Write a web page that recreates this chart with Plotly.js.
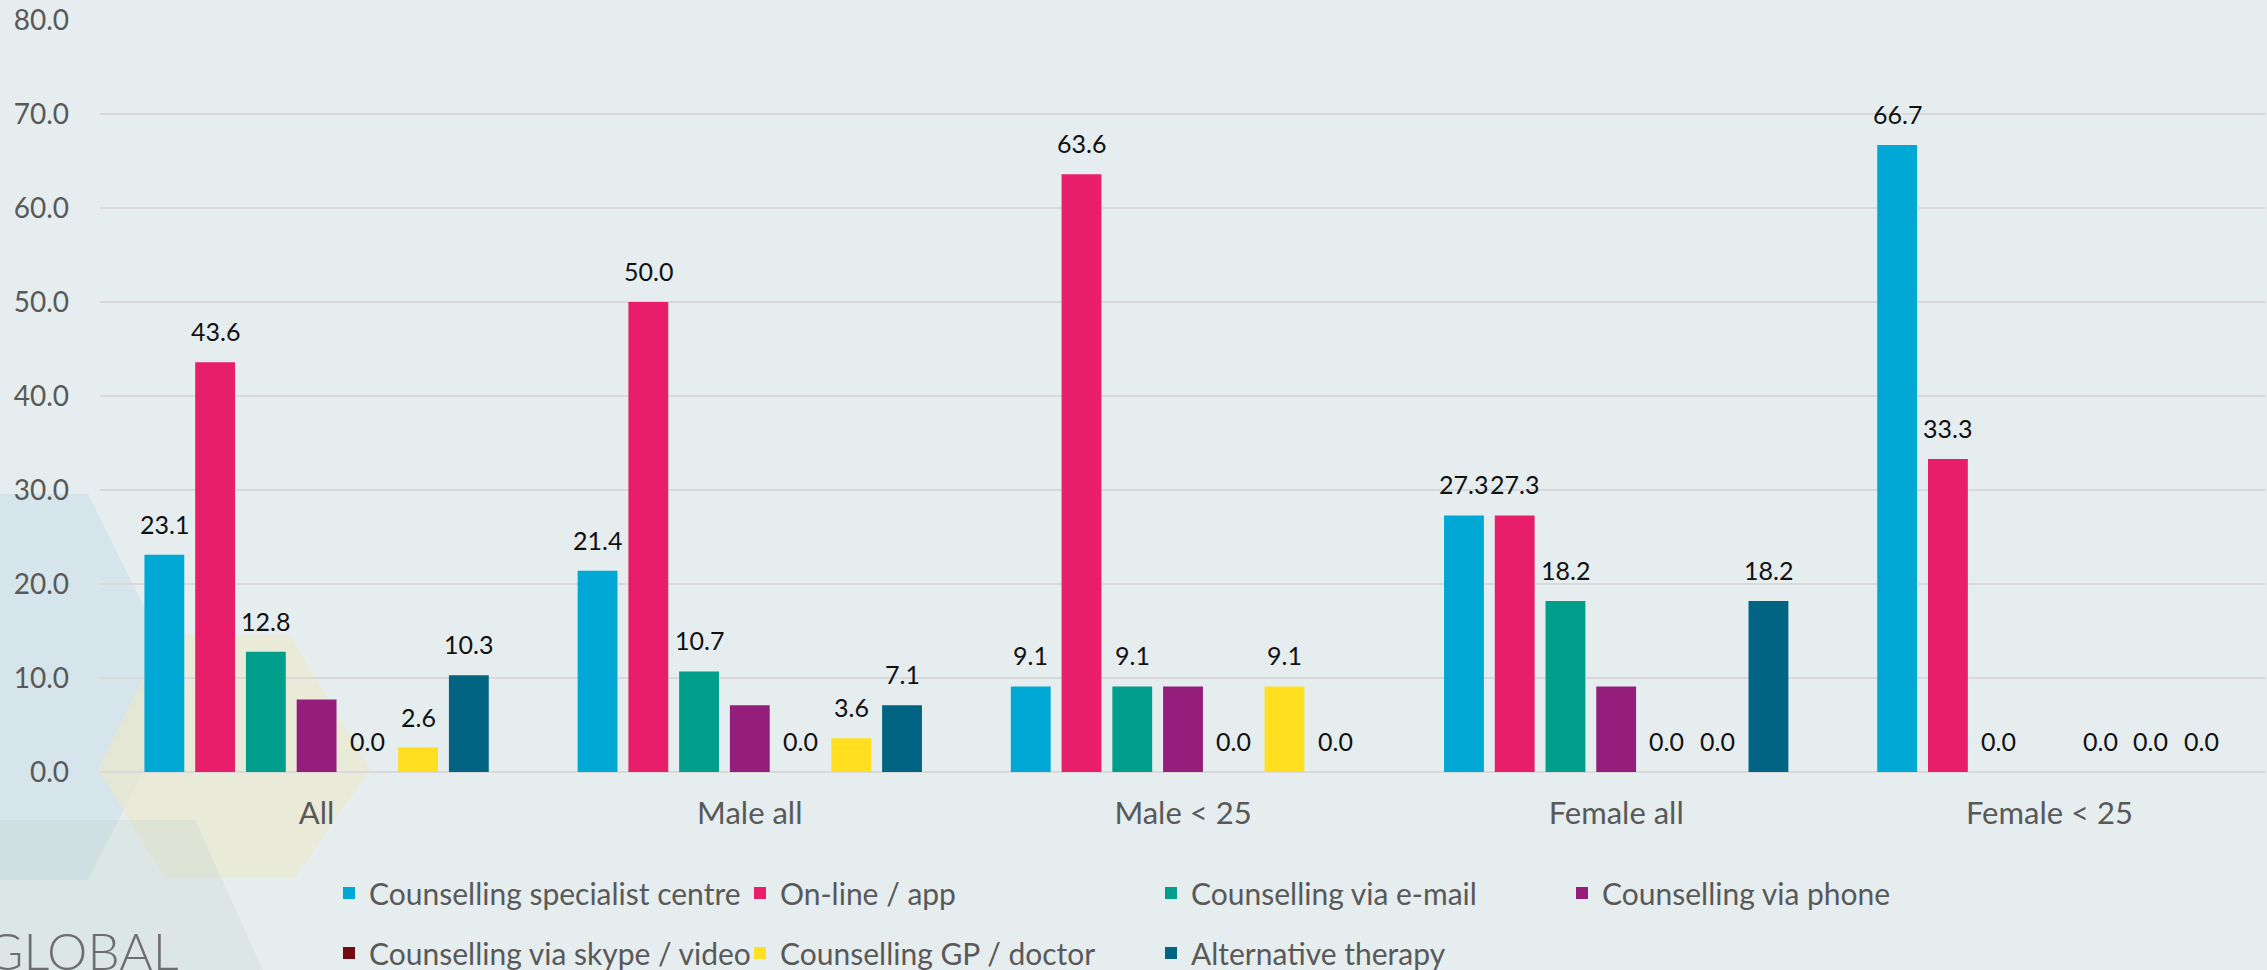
<!DOCTYPE html>
<html>
<head>
<meta charset="utf-8">
<script src="https://cdn.plot.ly/plotly-3.0.1.min.js"></script>
<style>
  html, body { margin: 0; padding: 0; background: #E5EDEF; }
  #chart { width: 2267px; height: 970px; }
</style>
</head>
<body>
<div id="chart"></div>
<script>
// ---- data ----
const categories = ['All', 'Male all', 'Male < 25', 'Female all', 'Female < 25'];
const seriesNames = [
  'Counselling specialist centre',
  'On-line / app',
  'Counselling via e-mail',
  'Counselling via phone',
  'Counselling via skype / video',
  'Counselling GP / doctor',
  'Alternative therapy'
];
const specialistCentre = [23.1, 21.4, 9.1, 27.3, 66.7];
const onlineApp        = [43.6, 50.0, 63.6, 27.3, 33.3];
const viaEmail         = [12.8, 10.7, 9.1, 18.2, 0.0];
const viaPhone         = [7.7, 7.1, 9.1, 9.1, 0.0];
const viaSkype         = [0.0, 0.0, 0.0, 0.0, 0.0];
const gpDoctor         = [2.6, 3.6, 9.1, 0.0, 0.0];
const alternative      = [10.3, 7.1, 0.0, 18.2, 0.0];
const yTickValues = [0, 10, 20, 30, 40, 50, 60, 70, 80];
const yTickLabels = ['0.0', '10.0', '20.0', '30.0', '40.0', '50.0', '60.0', '70.0', '80.0'];

// ---- styling ----
const colors = ['#00A8D6', '#E81E6B', '#009E8B', '#951E7C', '#740B10', '#FFDF20', '#006482'];
const showLabels = [true, true, true, false, true, true, true];
const legendOf = ['legend', 'legend', 'legend', 'legend', 'legend2', 'legend2', 'legend2'];
const allValues = [specialistCentre, onlineApp, viaEmail, viaPhone, viaSkype, gpDoctor, alternative];
const FONT = 'Lato, "Open Sans", sans-serif';

const L = 100, R = 1, T = 20, Bm = 198, WIDTH = 2267, HEIGHT = 970;
const BARGAP = 0.18, BARGROUPGAP = 0.215;
const plotW = WIDTH - L - R, plotH = HEIGHT - T - Bm;

const traces = allValues.map((vals, i) => ({
  type: 'bar',
  name: seriesNames[i],
  x: categories,
  y: vals,
  marker: { color: colors[i] },
  legend: legendOf[i],
  hoverinfo: 'x+y+name'
}));

// data labels: placed at each bar's category/value through the axes,
// shifted sideways by the bar's slot within the group
const slotPx = (plotW / categories.length) * (1 - BARGAP) / allValues.length;
const labelAnnotations = [];
allValues.forEach((vals, i) => {
  if (!showLabels[i]) return;
  vals.forEach((v, j) => {
    labelAnnotations.push({
      x: categories[j], y: v, xref: 'x', yref: 'y',
      text: v.toFixed(1), showarrow: false,
      xshift: (i - (allValues.length - 1) / 2) * slotPx,
      yanchor: 'middle', yshift: 31,
      font: { family: FONT, size: 25, color: '#111111' }
    });
  });
});

// decorative background hexagons (paper coords computed from pixel positions)
const B = HEIGHT - Bm;
function px(x) { return (x - L) / plotW; }
function py(y) { return (B - y) / plotH; }
function hexPath(pts) {
  return 'M' + pts.map(p => px(p[0]).toFixed(4) + ',' + py(p[1]).toFixed(4)).join('L') + 'Z';
}
const shapes = [
  { type: 'path', xref: 'paper', yref: 'paper', layer: 'below', line: { width: 0 },
    fillcolor: 'rgba(185,212,228,0.35)',
    path: hexPath([[-200, 494], [88, 494], [185, 690], [88, 880], [-200, 880]]) },
  { type: 'path', xref: 'paper', yref: 'paper', layer: 'below', line: { width: 0 },
    fillcolor: 'rgba(236,232,200,0.6)',
    path: hexPath([[98, 769], [165, 635], [290, 635], [370, 769], [295, 878], [165, 878]]) },
  { type: 'path', xref: 'paper', yref: 'paper', layer: 'below', line: { width: 0 },
    fillcolor: 'rgba(195,215,205,0.30)',
    path: hexPath([[-50, 820], [195, 820], [265, 975], [-50, 975]]) }
];

const legendCommon = {
  orientation: 'h',
  xref: 'container', yref: 'container',
  x: 329 / WIDTH, xanchor: 'left',
  yanchor: 'middle',
  bgcolor: 'rgba(0,0,0,0)',
  font: { family: FONT, size: 30, color: '#595959' },
  entrywidth: 366,
  entrywidthmode: 'pixels',
  traceorder: 'normal'
};

const layout = {
  width: WIDTH,
  height: HEIGHT,
  paper_bgcolor: '#E5EDEF',
  plot_bgcolor: 'rgba(0,0,0,0)',
  margin: { l: L, r: R, t: T, b: Bm },
  barmode: 'group',
  bargap: BARGAP,
  bargroupgap: BARGROUPGAP,
  font: { family: FONT, color: '#595959' },
  xaxis: {
    type: 'category',
    tickfont: { family: FONT, size: 31, color: '#595959' },
    ticks: '',
    ticklabelstandoff: 20,
    showgrid: false,
    zeroline: false,
    showline: false
  },
  yaxis: {
    range: [0, 80],
    tickvals: yTickValues,
    ticktext: yTickLabels,
    tickfont: { family: FONT, size: 28, color: '#595959' },
    ticks: '',
    ticklabelstandoff: 30,
    showgrid: true,
    gridcolor: '#D9D9D9',
    gridwidth: 2,
    zeroline: true,
    zerolinecolor: '#D9D9D9',
    zerolinewidth: 2,
    showline: false,
    fixedrange: true
  },
  showlegend: true,
  legend: Object.assign({}, legendCommon, { y: 1 - 893 / HEIGHT }),
  legend2: Object.assign({}, legendCommon, { y: 1 - 953 / HEIGHT }),
  shapes: shapes,
  annotations: labelAnnotations.concat([
    { text: 'GLOBAL', xref: 'paper', yref: 'paper',
      x: px(-16), xanchor: 'left', y: py(983), yanchor: 'bottom',
      showarrow: false,
      font: { family: 'Lato', size: 51, color: '#6E6E6E', weight: 300 } }
  ])
};

Plotly.newPlot('chart', traces, layout, { displayModeBar: false, responsive: false });
</script>
</body>
</html>
